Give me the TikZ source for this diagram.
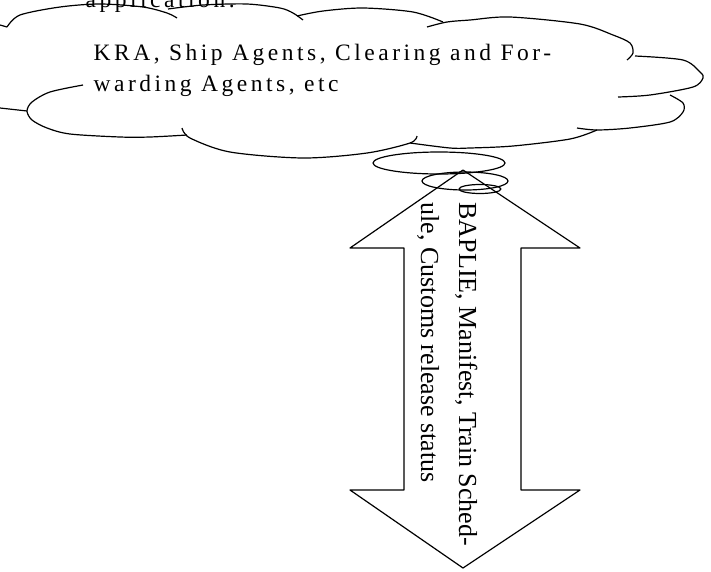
\documentclass[tikz,border=0pt]{standalone}
\usepackage{fontspec}
\setmainfont{Liberation Serif}
\newfontfamily\cloudfont[LetterSpace=15]{Liberation Serif}
\begin{document}
\begin{tikzpicture}[x=1pt,y=-1pt,line width=1.2pt,line join=round,
    cloudtext/.style={inner sep=0pt,align=left,font=\cloudfont\fontsize{23.5}{31}\selectfont}]
  \useasboundingbox (0,0) rectangle (711,571);
  \clip (0,0) rectangle (711,571);
  % cloud outline, lobe by lobe
  \draw (0,25) -- (7,27);
  \draw plot[smooth] coordinates {(7,27) (20,15) (60,7) (100,4) (143,7) (167,13) (177,18)};
  \draw plot[smooth] coordinates {(168,9) (203,5) (247,4) (280,8) (293,13) (303,20)};
  \draw plot[smooth] coordinates {(297,16) (323,11) (363,8) (413,12) (443,22)};
  \draw plot[smooth] coordinates {(427,27) (447,22) (470,20) (510,17) (580,24) (613,35) (630,43) (633,53) (627,60)};
  \draw plot[smooth] coordinates {(635,56) (683,60) (700,72) (703,78) (693,87) (650,95) (618,97)};
  \draw plot[smooth] coordinates {(670,95) (683,103) (683,112) (670,122) (630,128) (597,130) (577,128)};
  \draw plot[smooth] coordinates {(597,130) (570,139) (513,146) (470,148) (450,148) (410,143)};
  \draw plot[smooth] coordinates {(417,136) (410,143) (367,153) (303,158) (230,152) (190,138) (182,128)};
  \draw plot[smooth] coordinates {(187,135) (150,137) (120,137) (70,134) (47,128) (32,120) (27,111) (32,102) (50,92) (83,85)};
  \draw (0,108) -- (27,111);
  \node[cloudtext,anchor=base west] (apptext) at (85,7) {application.};
  \node[cloudtext,anchor=north west] (agents) at (93,44)
    {KRA, Ship Agents, Clearing and For-\\warding Agents, etc};
  % thought bubbles
  \draw (439,163) ellipse [x radius=66, y radius=11];
  \draw (465,181) ellipse [x radius=43, y radius=9];
  \draw (480,189) ellipse [x radius=21, y radius=4.5];
  % double arrow
  \draw (463,170) -- (580,248) -- (521,248) -- (521,490) -- (580,490) -- (463,568)
    -- (350,490) -- (404,490) -- (404,248) -- (350,248) -- cycle;
  \node[inner sep=0pt,align=left,rotate=-90,anchor=north west,
    font=\fontsize{26}{38}\selectfont] (flows) at (478,202)
    {BAPLIE, Manifest, Train Sched-\\ule, Customs release status};
\end{tikzpicture}
\end{document}
